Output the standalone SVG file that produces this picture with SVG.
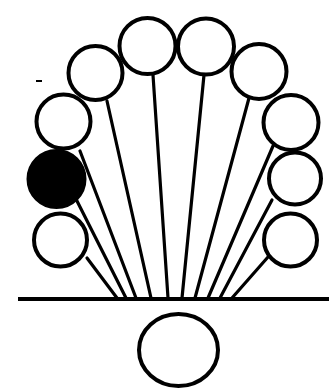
<svg xmlns="http://www.w3.org/2000/svg" width="329" height="388" viewBox="0 0 329 388">
<style>
.c{fill:#fff;stroke:#000;stroke-width:4}
.f{fill:#000;stroke:#000;stroke-width:2}
.l{stroke:#000;stroke-width:3.2;stroke-linecap:round;fill:none}
</style>
<rect width="329" height="388" fill="#fff"/>
<g id="connectors">
<line class="l" x1="87" y1="258" x2="117" y2="298"/>
<line class="l" x1="76" y1="199" x2="126" y2="298"/>
<line class="l" x1="80" y1="151" x2="136" y2="298"/>
<line class="l" x1="107" y1="101" x2="151" y2="298"/>
<line class="l" x1="153" y1="75" x2="168" y2="298"/>
<line class="l" x1="204" y1="75" x2="182" y2="298"/>
<line class="l" x1="249" y1="98" x2="195" y2="298"/>
<line class="l" x1="273" y1="146" x2="208" y2="298"/>
<line class="l" x1="272" y1="200" x2="220" y2="298"/>
<line class="l" x1="268" y1="257" x2="232" y2="298"/>
<line x1="18" y1="299" x2="329" y2="299" stroke="#000" stroke-width="4"/>
</g>
<g id="circle-l1"><circle class="c" cx="60.5" cy="240" r="26.5"/></g>
<g id="circle-l2"><circle class="f" cx="56.5" cy="179" r="29"/></g>
<g id="circle-l3"><circle class="c" cx="63.5" cy="121.5" r="27"/></g>
<g id="circle-l4"><circle class="c" cx="95.5" cy="73" r="27"/></g>
<g id="circle-l5"><circle class="c" cx="147.5" cy="46" r="28"/></g>
<g id="circle-r5"><circle class="c" cx="206" cy="46.5" r="28"/></g>
<g id="circle-r4"><circle class="c" cx="259" cy="71.5" r="27.5"/></g>
<g id="circle-r3"><circle class="c" cx="291" cy="122.5" r="27.5"/></g>
<g id="circle-r2"><circle class="c" cx="295" cy="178.5" r="26"/></g>
<g id="circle-r1"><circle class="c" cx="290.5" cy="240" r="26.5"/></g>
<g id="circle-bottom"><ellipse class="c" cx="178.5" cy="350" rx="39.5" ry="36"/></g>
<rect x="36" y="80" width="6" height="2" fill="#000"/>
</svg>
